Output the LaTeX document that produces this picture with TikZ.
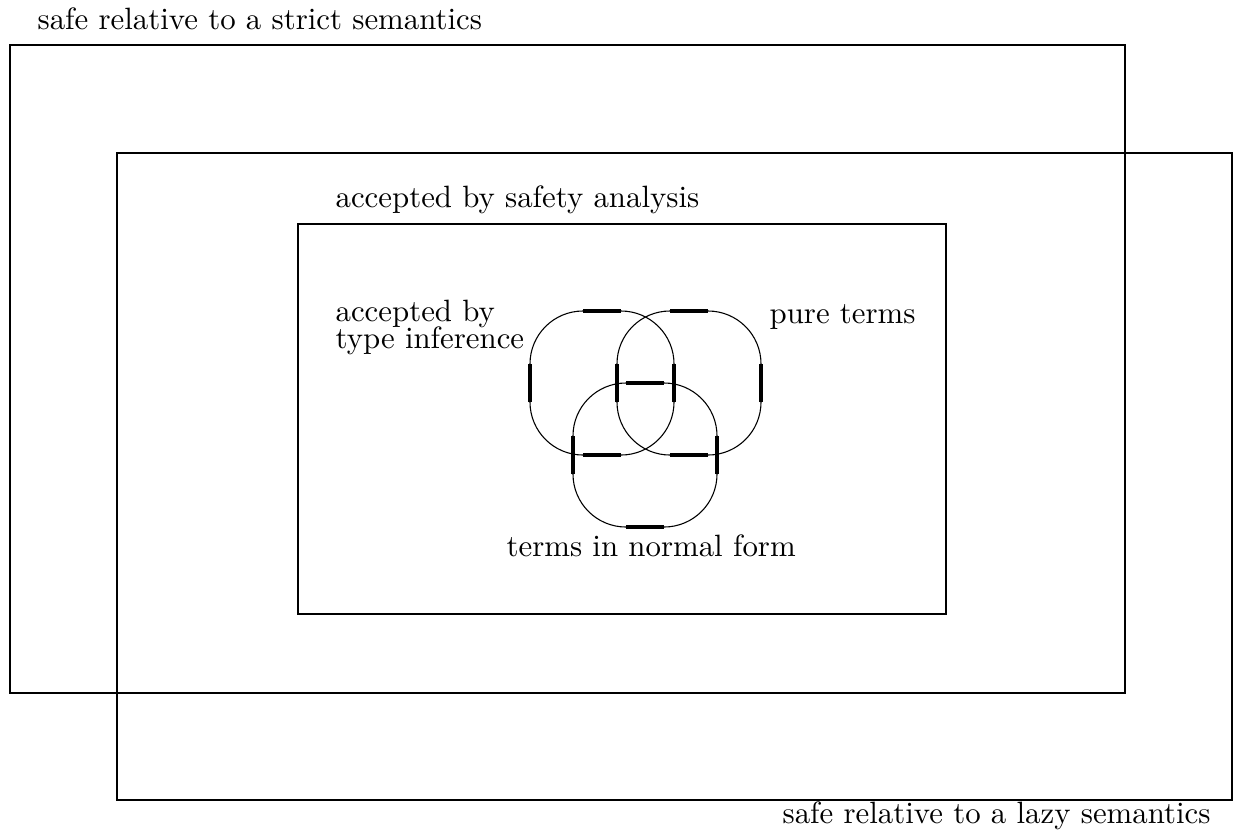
\documentclass[tikz,border=0pt]{standalone}
\usepackage{tikz}
\usetikzlibrary{positioning}

\newlength{\barhalf}
\setlength{\barhalf}{0.2166cm}

\begin{document}
\begin{tikzpicture}[
    x=0.0114cm, y=-0.0114cm,
    setbox/.style={draw, line width=0.95pt},
    lazybox/.style={draw, line width=0.6pt},
    vennbox/.style={draw, line width=0.35pt, rounded corners=0.604cm, minimum width=1.6416cm, minimum height=1.6416cm, inner sep=0pt, outer sep=0pt},
    vennbar/.style={line width=1.15pt},
    lbl/.style={anchor=base west, inner sep=0pt, font=\normalsize},
]
\useasboundingbox (0,0) rectangle (1233,838);

% the three big sets
\draw[setbox] (10,45) rectangle (1125,693);
\draw[lazybox] (117,153) rectangle (1232.2,800);
\draw[setbox] (298,224) rectangle (946,614);

% venn part
\node[vennbox] (typeinf) at (602,383) {};
\node[vennbox] (pure) at (689,383) {};
\node[vennbox] (normal) at (645,455) {};

\foreach \n in {typeinf,pure,normal}{
  \draw[vennbar] ([xshift=-\barhalf]\n.north) -- ([xshift=\barhalf]\n.north);
  \draw[vennbar] ([xshift=-\barhalf]\n.south) -- ([xshift=\barhalf]\n.south);
  \draw[vennbar] ([yshift=-\barhalf]\n.west) -- ([yshift=\barhalf]\n.west);
  \draw[vennbar] ([yshift=-\barhalf]\n.east) -- ([yshift=\barhalf]\n.east);
}

% labels
\node[lbl] (strictlbl) at (37,29) {safe relative to a strict semantics};
\node[lbl] (lazylbl) at (782,823) {safe relative to a lazy semantics};
\node[lbl] (safetylbl) at (335,207) {accepted by safety analysis};
\node[lbl] (typeinflbl) at (335,321) {accepted by};
\node[lbl] (typeinflblb) at (335,348) {type inference};
\node[lbl] (purelbl) at (769,323) {pure terms};
\node[lbl] (normallbl) at (506,556) {terms in normal form};
\end{tikzpicture}
\end{document}
